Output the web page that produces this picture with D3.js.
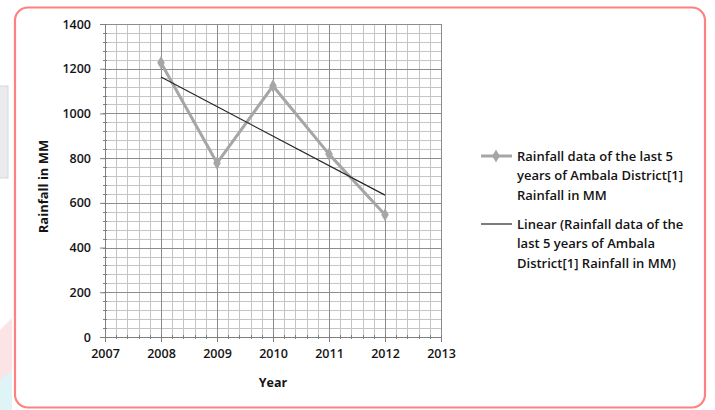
<!DOCTYPE html>
<html><head><meta charset="utf-8">
<script src="https://cdn.jsdelivr.net/npm/d3@7"></script>
<style>
html,body{margin:0;padding:0;background:#fff;}
svg{display:block;}
text{font-family:"Open Sans","Liberation Sans",sans-serif;fill:#141414;}
</style></head>
<body>
<svg id="chart" width="715" height="410"></svg>
<script>
const years = [2008, 2009, 2010, 2011, 2012];
const rainfall = [1227, 778, 1123, 818, 547];
const xTicks = [2007, 2008, 2009, 2010, 2011, 2012, 2013];
const yTicks = [0, 200, 400, 600, 800, 1000, 1200, 1400];
const seriesLabel = ["Rainfall data of the last 5", "years of Ambala District[1]", "Rainfall in MM"];
const trendLabel = ["Linear (Rainfall data of the", "last 5 years of Ambala", "District[1] Rainfall in MM)"];

const svg = d3.select("#chart");
const L = 105, R = 441, T = 24, B = 337;
const x = d3.scaleLinear().domain([2007, 2013]).range([L, R]);
const y = d3.scaleLinear().domain([0, 1400]).range([B, T]);

// background artifacts
svg.append("rect").attr("x", -2).attr("y", 86).attr("width", 10).attr("height", 92)
  .attr("fill", "#e9ebee").attr("stroke", "#d5d8dc");
svg.append("path").attr("d", "M0,330 L12,318 L12,410 L0,410 Z").attr("fill", "#fbe3e6");
svg.append("path").attr("d", "M0,380 L12,370 L12,410 L0,410 Z").attr("fill", "#dff4f6");

// frame
svg.append("rect").attr("x", 15).attr("y", 7.5).attr("width", 690).attr("height", 400)
  .attr("rx", 13).attr("fill", "#fff").attr("stroke", "#ff8080").attr("stroke-width", 2.2);

// minor grid
const xMinor = d3.range(2007, 2013.001, 0.2);
const yMinor = d3.range(0, 1400.1, 40);
const g = svg.append("g");
g.selectAll(".vmin").data(xMinor).join("line")
  .attr("x1", d => Math.round(x(d)) + 0.5).attr("x2", d => Math.round(x(d)) + 0.5).attr("y1", T).attr("y2", B)
  .attr("stroke", "#c4c4c4").attr("stroke-width", 1);
g.selectAll(".hmin").data(yMinor).join("line")
  .attr("x1", L).attr("x2", R).attr("y1", d => Math.round(y(d)) + 0.5).attr("y2", d => Math.round(y(d)) + 0.5)
  .attr("stroke", "#c4c4c4").attr("stroke-width", 1);
// major grid
g.selectAll(".vmaj").data(xTicks).join("line")
  .attr("x1", d => Math.round(x(d)) + 0.5).attr("x2", d => Math.round(x(d)) + 0.5).attr("y1", T).attr("y2", B)
  .attr("stroke", "#8c8c8c").attr("stroke-width", 1);
g.selectAll(".hmaj").data(yTicks).join("line")
  .attr("x1", L).attr("x2", R).attr("y1", d => Math.round(y(d)) + 0.5).attr("y2", d => Math.round(y(d)) + 0.5)
  .attr("stroke", "#8c8c8c").attr("stroke-width", 1);

// axes
const yAxis = d3.axisLeft(y).tickValues(yTicks).tickSize(5).tickPadding(9).tickFormat(d3.format("d"));
const xAxis = d3.axisBottom(x).tickValues(xTicks).tickSize(5).tickPadding(7).tickFormat(d3.format("d"));
const ya = svg.append("g").attr("transform", `translate(${L},0)`).call(yAxis);
const xa = svg.append("g").attr("transform", `translate(0,${B})`).call(xAxis);
[ya, xa].forEach(a => {
  a.select(".domain").attr("stroke", "#7f7f7f");
  a.selectAll(".tick line").attr("stroke", "#7f7f7f");
  a.selectAll("text").style("font-size", "12.5px").style("font-weight", "600")
    .style("font-family", '"Open Sans", sans-serif').attr("fill", "#141414");
});
// minor ticks
svg.append("g").selectAll("line").data(yMinor).join("line")
  .attr("x1", L - 2).attr("x2", L + 2).attr("y1", d => Math.round(y(d)) + 0.5).attr("y2", d => Math.round(y(d)) + 0.5)
  .attr("stroke", "#7f7f7f");
svg.append("g").selectAll("line").data(xMinor).join("line")
  .attr("x1", d => Math.round(x(d)) + 0.5).attr("x2", d => Math.round(x(d)) + 0.5).attr("y1", B - 2).attr("y2", B + 2)
  .attr("stroke", "#7f7f7f");

// axis titles
svg.append("text").attr("transform", `translate(48,${(T + B) / 2 + 6}) rotate(-90)`)
  .attr("text-anchor", "middle").style("font-size", "13px").style("font-weight", "700").text("Rainfall in MM");
svg.append("text").attr("x", (L + R) / 2).attr("y", 387)
  .attr("text-anchor", "middle").style("font-size", "12.5px").style("font-weight", "700").text("Year");

// series
const pts = years.map((yr, i) => [yr, rainfall[i]]);
const line = d3.line().x(d => x(d[0])).y(d => y(d[1]));
svg.append("path").datum(pts).attr("d", line).attr("fill", "none")
  .attr("stroke", "#a6a6a6").attr("stroke-width", 3).attr("stroke-linejoin", "round");
const diamond = d3.symbol().type(d3.symbolDiamond).size(50);
svg.selectAll(".pt").data(pts).join("path")
  .attr("transform", d => `translate(${x(d[0])},${y(d[1])})`)
  .attr("d", diamond).attr("fill", "#a6a6a6");

// linear trend (least squares)
const mx = d3.mean(years), my = d3.mean(rainfall);
const slope = d3.sum(years, (v, i) => (v - mx) * (rainfall[i] - my)) / d3.sum(years, v => (v - mx) ** 2);
const trend = [years[0], years[years.length - 1]].map(v => [v, my + slope * (v - mx)]);
svg.append("path").datum(trend).attr("d", line).attr("fill", "none")
  .attr("stroke", "#262626").attr("stroke-width", 1.2);

// legend
const lg = svg.append("g");
lg.append("line").attr("x1", 481).attr("x2", 512).attr("y1", 156).attr("y2", 156)
  .attr("stroke", "#a6a6a6").attr("stroke-width", 3);
lg.append("path").attr("transform", "translate(496,156)").attr("d", diamond).attr("fill", "#a6a6a6");
lg.append("line").attr("x1", 481).attr("x2", 512).attr("y1", 224).attr("y2", 224)
  .attr("stroke", "#262626").attr("stroke-width", 1.2);
const addLines = (arr, y0) => arr.forEach((t, i) =>
  lg.append("text").attr("x", 517).attr("y", y0 + i * 19.5).attr("dy", "0.35em")
    .style("font-size", "13px").style("font-weight", "600").text(t));
addLines(seriesLabel, 156);
addLines(trendLabel, 224);
</script>
</body></html>
